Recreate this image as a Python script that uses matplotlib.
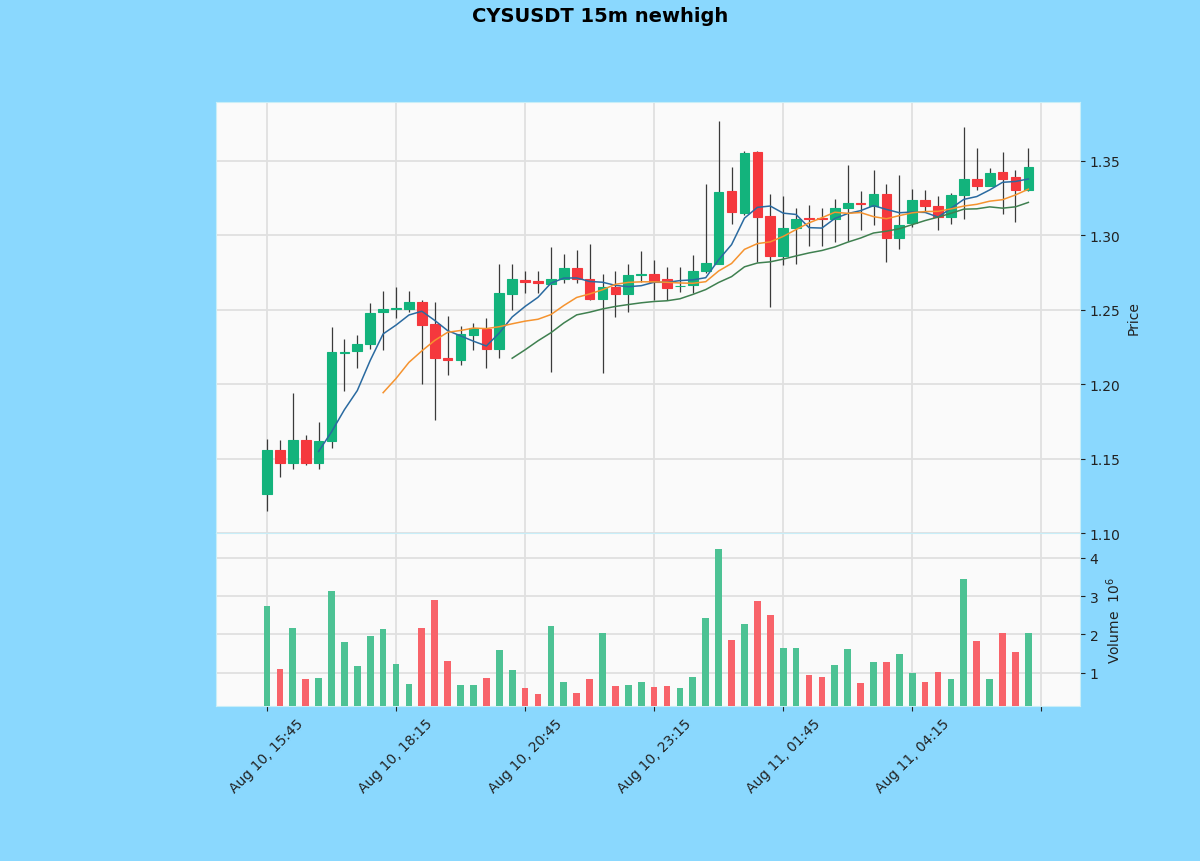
import matplotlib
matplotlib.use("Agg")
import matplotlib.pyplot as plt
import numpy as np
import pandas as pd

# ---------------- data ----------------
opens = [1.1261, 1.1558, 1.1469, 1.1625, 1.1470, 1.1615, 1.2210, 1.2225, 1.2269, 1.2486,
         1.2506, 1.2508, 1.2553, 1.2401, 1.2175, 1.2162, 1.2329, 1.2369, 1.2235, 1.2604,
         1.2697, 1.2690, 1.2671, 1.2709, 1.2781, 1.2709, 1.2570, 1.2653, 1.2604, 1.2732,
         1.2743, 1.2709, 1.2658, 1.2664, 1.2761, 1.2810, 1.3297, 1.3151, 1.3558, 1.3129,
         1.2861, 1.3051, 1.3118, 1.3114, 1.3107, 1.3185, 1.3214, 1.3196, 1.3279, 1.2981,
         1.3084, 1.3240, 1.3196, 1.3123, 1.3272, 1.3375, 1.3334, 1.3424, 1.3391, 1.3301]
highs = [1.1632, 1.1625, 1.1938, 1.1659, 1.1744, 1.2387, 1.2302, 1.2329, 1.2548, 1.2624,
         1.2653, 1.2624, 1.2564, 1.2555, 1.2459, 1.2390, 1.2408, 1.2441, 1.2810, 1.2810,
         1.2758, 1.2758, 1.2921, 1.2877, 1.2899, 1.2944, 1.2743, 1.2758, 1.2810, 1.2892,
         1.2832, 1.2787, 1.2787, 1.2865, 1.3346, 1.3770, 1.3458, 1.3569, 1.3569, 1.3279,
         1.3263, 1.3185, 1.3200, 1.3185, 1.3245, 1.3469, 1.3294, 1.3435, 1.3346, 1.3406,
         1.3312, 1.3301, 1.3263, 1.3286, 1.3726, 1.3585, 1.3451, 1.3562, 1.3435, 1.3585]
lows = [1.1147, 1.1375, 1.1431, 1.1460, 1.1431, 1.1570, 1.1954, 1.2111, 1.2235, 1.2229,
        1.2441, 1.2486, 1.1999, 1.1757, 1.2061, 1.2128, 1.2229, 1.2106, 1.2173, 1.2497,
        1.2609, 1.2609, 1.2084, 1.2680, 1.2676, 1.2565, 1.2072, 1.2452, 1.2486, 1.2687,
        1.2564, 1.2564, 1.2620, 1.2609, 1.2745, 1.2810, 1.3078, 1.3133, 1.2821, 1.2520,
        1.2800, 1.2810, 1.2928, 1.2928, 1.2955, 1.2960, 1.3033, 1.3066, 1.2821, 1.2910,
        1.3055, 1.3156, 1.3033, 1.3078, 1.3111, 1.3301, 1.3330, 1.3145, 1.3089, 1.3300]
closes = [1.1558, 1.1469, 1.1625, 1.1470, 1.1618, 1.2213, 1.2215, 1.2269, 1.2481, 1.2508,
          1.2510, 1.2553, 1.2396, 1.2173, 1.2165, 1.2334, 1.2374, 1.2235, 1.2609, 1.2704,
          1.2688, 1.2680, 1.2709, 1.2781, 1.2709, 1.2570, 1.2653, 1.2604, 1.2736, 1.2743,
          1.2687, 1.2649, 1.2662, 1.2761, 1.2816, 1.3290, 1.3156, 1.3552, 1.3123, 1.2861,
          1.3051, 1.3111, 1.3110, 1.3108, 1.3183, 1.3217, 1.3208, 1.3279, 1.2981, 1.3071,
          1.3240, 1.3196, 1.3123, 1.3272, 1.3375, 1.3334, 1.3418, 1.3379, 1.3301, 1.3458]
volumes_m = [2.74, 1.10, 2.16, 0.84, 0.86, 3.13, 1.81, 1.18, 1.95, 2.14,
             1.23, 0.71, 2.16, 2.89, 1.31, 0.68, 0.68, 0.86, 1.59, 1.07,
             0.60, 0.45, 2.22, 0.75, 0.48, 0.84, 2.03, 0.66, 0.69, 0.77,
             0.62, 0.66, 0.60, 0.90, 2.42, 4.22, 1.86, 2.27, 2.87, 2.50,
             1.64, 1.64, 0.95, 0.90, 1.21, 1.62, 0.73, 1.29, 1.29, 1.49,
             0.99, 0.77, 1.03, 0.84, 3.44, 1.82, 0.84, 2.05, 1.53, 2.05]
mav_windows = [5, 10, 20]
xtick_pos = [0, 10, 20, 30, 40, 50, 60]
xtick_labels = ["Aug 10, 15:45", "Aug 10, 18:15", "Aug 10, 20:45", "Aug 10, 23:15",
                "Aug 11, 01:45", "Aug 11, 04:15", ""]
price_ticks = [1.10, 1.15, 1.20, 1.25, 1.30, 1.35]
volume_ticks = [1, 2, 3, 4]
title = "CYSUSDT 15m newhigh"

# ---------------- style ----------------
FIG_BG = "#8ad8fe"
AX_BG = "#fafafa"
UP = "#13b37c"
DOWN = "#f5383d"
VUP = "#4dc294"
VDOWN = "#f8636a"
WICK = "#3a3a3a"
GRID = "#e0e0e0"
MAV_COLORS = ["#2a6aa0", "#f5932f", "#3f8050"]

o = np.array(opens); h = np.array(highs); l = np.array(lows); c = np.array(closes)
v = np.array(volumes_m)
x = np.arange(len(o))
up = c >= o

fig = plt.figure(figsize=(12, 8.62), dpi=100, facecolor=FIG_BG)
ax_p = fig.add_axes([0.18, 0.3805, 0.72, 0.5], facecolor=AX_BG)
ax_v = fig.add_axes([0.18, 0.1798, 0.72, 0.2007], facecolor=AX_BG, sharex=ax_p)

for ax in (ax_p, ax_v):
    ax.set_axisbelow(True)
    ax.grid(True, color=GRID, linewidth=1.3)
    for s in ax.spines.values():
        s.set_color("#c8eef8")
        s.set_linewidth(0.8)
    ax.yaxis.tick_right()
    ax.yaxis.set_label_position("right")
    ax.tick_params(axis="both", colors="#222222", labelsize=10)

# wicks
ax_p.vlines(x, l, h, color=WICK, linewidth=0.9, zorder=2)
# bodies
body_bottom = np.minimum(o, c)
body_h = np.maximum(np.abs(c - o), 0.0004)
colors = np.where(up, UP, DOWN)
ax_p.bar(x, body_h, bottom=body_bottom, width=0.75, color=colors,
         edgecolor=colors, linewidth=0.8, zorder=3)

# moving averages
cs = pd.Series(c)
for w, col in zip(mav_windows, MAV_COLORS):
    ma = cs.rolling(w).mean()
    ax_p.plot(x, ma.values, color=col, linewidth=1.1, zorder=4)

ax_p.set_ylim(1.1005, 1.3895)
ax_p.set_yticks(price_ticks)
ax_p.set_yticklabels([f"{t:.2f}" for t in price_ticks])
ax_p.set_ylabel("Price", fontsize=10, color="#222222")
ax_p.tick_params(axis="x", length=0, labelbottom=False)

# volume
vcolors = np.where(up, VUP, VDOWN)
ax_v.bar(x, v, width=0.52, color=vcolors, zorder=3)
ax_v.set_ylim(0.3 * v.min(), 1.1 * v.max())
ax_v.set_yticks(volume_ticks)
ax_v.set_yticklabels([str(t) for t in volume_ticks])
ax_v.set_ylabel("Volume  $10^6$", fontsize=10, color="#222222")

ax_v.set_xlim(-3.95, 63.0)
ax_v.set_xticks(xtick_pos)
ax_v.set_xticklabels(xtick_labels, rotation=45, ha="center")

fig.text(0.5, 1 - 16 / 862, title, ha="center", va="center",
         fontsize=14, fontweight="bold", color="#000000")

fig.savefig("out.png", dpi=100, facecolor=FIG_BG)
